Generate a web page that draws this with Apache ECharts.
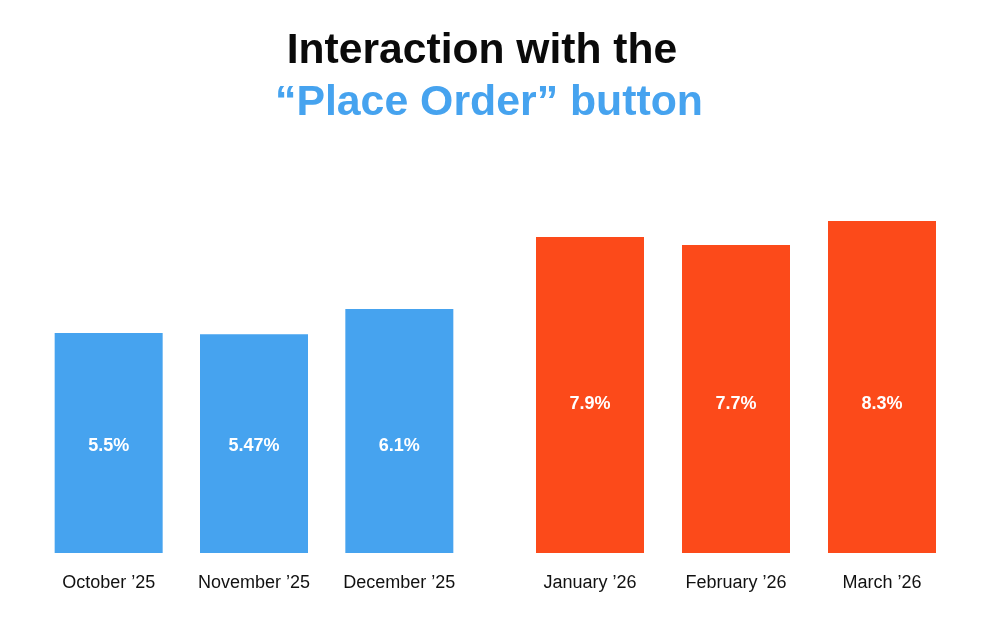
<!DOCTYPE html>
<html>
<head>
<meta charset="utf-8">
<script src="https://cdn.jsdelivr.net/npm/echarts@6/dist/echarts.min.js"></script>
<style>html,body{margin:0;padding:0;background:#fff;}#c{width:1000px;height:640px;}</style>
</head>
<body>
<div id="c"></div>
<script>
const titleLine1 = 'Interaction with the';
const titleLine2 = '“Place Order” button';
const categories2025 = ['October ’25', 'November ’25', 'December ’25'];
const categories2026 = ['January ’26', 'February ’26', 'March ’26'];
const values2025 = [5.5, 5.47, 6.1];
const values2026 = [7.9, 7.7, 8.3];
const labels2025 = ['5.5%', '5.47%', '6.1%'];
const labels2026 = ['7.9%', '7.7%', '8.3%'];

const BLUE = '#46a3ef';
const RED = '#fc4a1a';
const FONT = '"Liberation Sans", Arial, Helvetica, sans-serif';

const chart = echarts.init(document.getElementById('c'), null, {renderer: 'canvas'});

function xAxis(gridIndex, cats) {
  return {
    type: 'category', gridIndex, data: cats,
    axisLine: {show: false}, axisTick: {show: false}, splitLine: {show: false},
    axisLabel: {color: '#111', fontSize: 18, fontFamily: FONT, margin: 21, interval: 0, hideOverlap: false}
  };
}
function yAxis(gridIndex) {
  return {type: 'value', gridIndex, min: 0, max: 10, show: false, splitLine: {show: false}};
}
function barSeries(idx, vals, labels, color, dist) {
  return {
    type: 'bar', xAxisIndex: idx, yAxisIndex: idx, data: vals, barWidth: 108,
    itemStyle: {color},
    label: {
      show: true, position: 'insideBottom', distance: dist,
      color: '#fff', fontSize: 18, fontWeight: 'bold', fontFamily: FONT,
      formatter: p => labels[p.dataIndex]
    },
    silent: true
  };
}

chart.setOption({
  backgroundColor: '#fff',
  animation: false,
  title: [
    {
      left: 482, textAlign: 'center', top: 26, padding: 0,
      text: titleLine1,
      textStyle: {color: '#0a0a0a', fontSize: 42.6, fontWeight: 'bold', fontFamily: FONT, lineHeight: 50}
    },
    {
      left: 489, textAlign: 'center', top: 78, padding: 0,
      text: titleLine2,
      textStyle: {color: BLUE, fontSize: 42.8, fontWeight: 'bold', fontFamily: FONT, lineHeight: 50}
    }
  ],
  grid: [
    {left: 36, width: 436, top: 153, bottom: 87},
    {left: 517, width: 438, top: 153, bottom: 87}
  ],
  xAxis: [xAxis(0, categories2025), xAxis(1, categories2026)],
  yAxis: [yAxis(0), yAxis(1)],
  series: [
    barSeries(0, values2025, labels2025, BLUE, 98),
    barSeries(1, values2026, labels2026, RED, 140)
  ]
});
</script>
</body>
</html>
